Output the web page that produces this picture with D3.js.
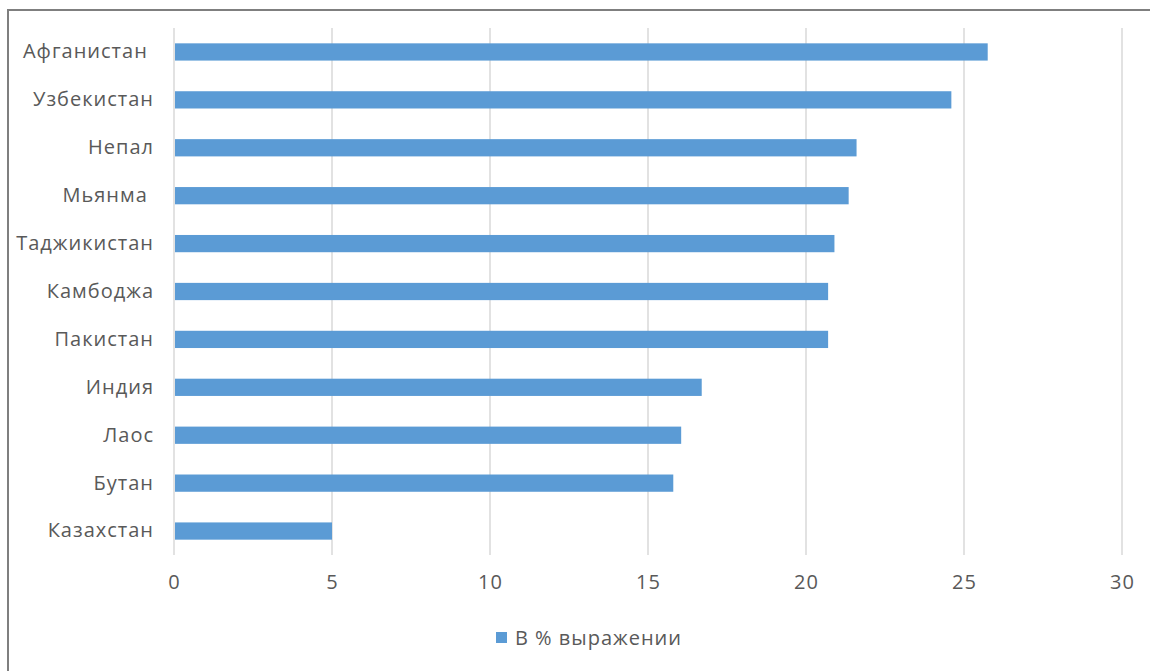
<!DOCTYPE html>
<html>
<head>
    <meta charset="utf-8">
    <script src="https://d3js.org/d3.v7.min.js"></script>
    <style>
        body { margin: 0; background: #fff; }
        text { font-family: "Open Sans", "Noto Sans", sans-serif; fill: #595959; letter-spacing: 1px; }
    </style>
</head>
<body>
    <div id="chart"></div>
    <script>
        // data
        var countries = ["Афганистан ", "Узбекистан", "Непал", "Мьянма ", "Таджикистан", "Камбоджа",
                         "Пакистан", "Индия", "Лаос", "Бутан", "Казахстан"];
        var values = [25.75, 24.6, 21.6, 21.35, 20.9, 20.7, 20.7, 16.7, 16.05, 15.8, 5.0];
        var xTicks = [0, 5, 10, 15, 20, 25, 30];
        var seriesName = "В % выражении";

        var W = 1150, H = 671;
        var margin = { top: 28, right: 28, bottom: 116, left: 174 };
        var width = W - margin.left - margin.right, height = H - margin.top - margin.bottom;
        var fontSize = "20px";

        var svg = d3.select("#chart").append("svg")
            .attr("width", W)
            .attr("height", H);

        // chart frame (right / bottom edges fall outside the picture)
        svg.append("rect")
            .attr("x", 8).attr("y", 10)
            .attr("width", W + 20).attr("height", H + 20)
            .attr("fill", "none")
            .attr("stroke", "#7f7f7f")
            .attr("stroke-width", 2);

        var g = svg.append("g").attr("transform", `translate(${margin.left},${margin.top})`);

        var x = d3.scaleLinear().domain([0, 30]).range([0, width]);
        var y = d3.scaleBand().domain(countries).range([0, height]).paddingInner(0.64).paddingOuter(0.32);

        // gridlines
        g.append("g")
            .selectAll("line")
            .data(xTicks)
            .enter().append("line")
            .attr("x1", d => x(d)).attr("x2", d => x(d))
            .attr("y1", 0).attr("y2", height)
            .attr("stroke", "#d9d9d9")
            .attr("stroke-width", 1.5);

        // bars
        g.append("g")
            .selectAll("rect")
            .data(countries)
            .enter().append("rect")
            .attr("x", x(0) + 1)
            .attr("y", d => y(d))
            .attr("width", (d, i) => x(values[i]) - x(0) - 1)
            .attr("height", y.bandwidth())
            .attr("fill", "#5b9bd5");

        // x axis
        var xAxis = g.append("g")
            .attr("transform", `translate(0,${height})`)
            .call(d3.axisBottom(x).tickValues(xTicks).tickSize(0).tickPadding(20));
        xAxis.select(".domain").remove();
        xAxis.selectAll("text").style("font-size", fontSize).attr("fill", "#595959");

        // y axis
        var yAxis = g.append("g")
            .call(d3.axisLeft(y).tickSize(0).tickPadding(20));
        yAxis.select(".domain").remove();
        yAxis.selectAll("text")
            .style("font-size", fontSize)
            .style("white-space", "pre")
            .attr("fill", "#595959");

        // legend
        var legend = svg.append("g").attr("transform", "translate(496,632)");
        legend.append("rect").attr("width", 11).attr("height", 11).attr("fill", "#5b9bd5");
        legend.append("text")
            .attr("x", 19).attr("y", 6)
            .attr("dy", "0.35em")
            .style("font-size", fontSize)
            .text(seriesName);
    </script>
</body>
</html>
